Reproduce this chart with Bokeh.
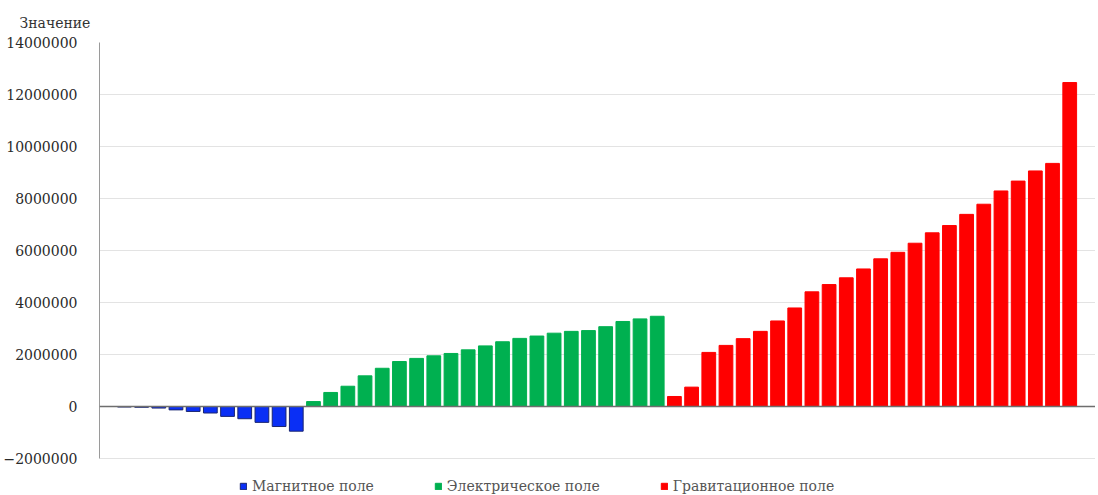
from bokeh.plotting import figure
from bokeh.models import Range1d, FixedTicker, Legend, LegendItem, Span, Title, ColumnDataSource, BasicTickFormatter
from bokeh.embed import file_html
from bokeh.resources import INLINE

magnetic = [-20000, -30000, -60000, -130000, -190000, -250000, -380000, -470000, -610000, -770000, -950000]
electric = [190000, 540000, 780000, 1180000, 1470000, 1730000, 1850000, 1950000, 2040000, 2180000,
            2330000, 2490000, 2620000, 2710000, 2820000, 2890000, 2920000, 3070000, 3270000, 3370000, 3470000]
gravity = [385000, 745000, 2080000, 2350000, 2610000, 2890000, 3290000, 3790000, 4410000, 4690000,
           4950000, 5290000, 5680000, 5930000, 6280000, 6680000, 6960000, 7390000, 7780000, 8290000,
           8670000, 9060000, 9350000, 12460000]
series_names = ["Магнитное поле", "Электрическое поле", "Гравитационное поле"]
y_ticks = [-2000000, 0, 2000000, 4000000, 6000000, 8000000, 10000000, 12000000, 14000000]
axis_title = "Значение"

FONT = "DejaVu Serif"
colors = ["#0a2ff5", "#00b050", "#ff0000"]
outlines = ["#1a2570", "#00b050", "#ff0000"]

n_total = len(magnetic) + len(electric) + len(gravity)

# extra room below -2M inside the frame holds the legend
p = figure(frame_width=996, frame_height=452, output_backend="svg", toolbar_location=None,
           x_range=Range1d(-1.45, n_total + 0.5), y_range=Range1d(-3384600, y_ticks[-1]),
           min_border_left=99, min_border_right=0, min_border_top=42, min_border_bottom=0)
p.title = Title(text=axis_title, align="left", offset=-80, standoff=24, text_font=FONT,
                text_font_size="14px", text_font_style="normal", text_color="#333333")
p.outline_line_color = None
p.background_fill_color = "white"
p.xaxis.visible = False
p.xgrid.visible = False
p.ygrid.grid_line_color = "#e3e3e3"
p.ygrid.ticker = FixedTicker(ticks=y_ticks)
p.yaxis.ticker = FixedTicker(ticks=y_ticks)
p.yaxis.bounds = (y_ticks[0], y_ticks[-1])
p.yaxis.formatter = BasicTickFormatter(use_scientific=False)
p.yaxis.major_tick_line_color = None
p.yaxis.minor_tick_line_color = None
p.yaxis.axis_line_color = "#9a9a9a"
p.yaxis.major_label_standoff = 16
p.yaxis.major_label_text_font = FONT
p.yaxis.major_label_text_font_size = "14px"
p.yaxis.major_label_text_color = "#2a2a2a"

items = []
start = 0
for name, vals, c, oc in zip(series_names, [magnetic, electric, gravity], colors, outlines):
    xs = list(range(start, start + len(vals)))
    src = ColumnDataSource(dict(x=xs, top=vals))
    r = p.vbar(x="x", top="top", bottom=0, width=0.8, source=src, fill_color=c, line_color=oc, line_width=1)
    items.append(LegendItem(label=name, renderers=[r]))
    start += len(vals)

p.add_layout(Span(location=0, dimension="width", line_color="#6e6e6e", line_width=1.5))

legend = Legend(items=items, orientation="horizontal", location=(140, 0), glyph_width=8, glyph_height=8,
                label_standoff=5, spacing=60, padding=3, margin=0, border_line_color=None,
                background_fill_alpha=0, label_text_font=FONT, label_text_font_size="14px",
                label_text_color="#555555")
p.add_layout(legend)

open("out.html", "w").write(file_html(p, INLINE))
